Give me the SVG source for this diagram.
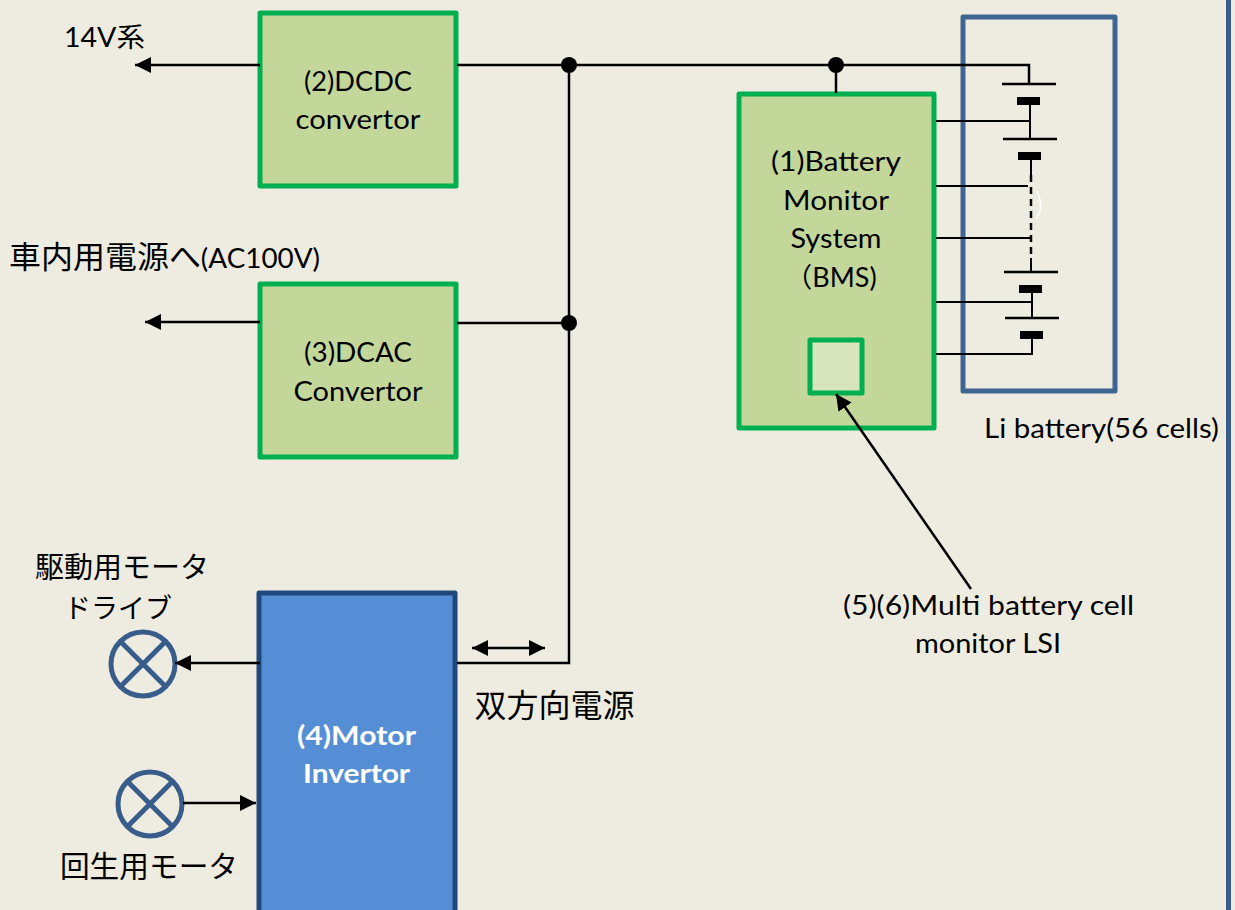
<svg xmlns="http://www.w3.org/2000/svg" width="1235" height="910" viewBox="0 0 1235 910">
<style>
text{font-family:"Lato","Noto Sans CJK JP",sans-serif;font-size:27px;fill:#000;text-anchor:middle}
.jp{font-family:"Noto Sans CJK JP",sans-serif;font-size:29.7px}
.box{fill:#C4D79B;stroke:#00B050;stroke-width:5;stroke-linejoin:round}
.w{fill:none;stroke:#000;stroke-width:2.5}
.t{fill:none;stroke:#000;stroke-width:2}
.p{fill:none;stroke:#000;stroke-width:2.5}
.m{fill:none;stroke:#385D8A;stroke-width:5}
.dot{fill:#000}
</style>
<defs>
<marker id="a" markerUnits="userSpaceOnUse" markerWidth="16" markerHeight="16" refX="16" refY="8" orient="auto-start-reverse" viewBox="0 0 16 16"><path d="M0 0L16 8L0 16Z" fill="#000"/></marker>
</defs>
<rect width="1235" height="910" fill="#EEECE1"/>
<rect x="1226" y="-5" width="5" height="920" fill="#385D8A"/>
<g id="battery"><rect x="963" y="17" width="152" height="374" fill="none" stroke="#3F6592" stroke-width="5" stroke-linejoin="round"/>
<text x="1039" y="215" style="fill:#fff;font-size:32px;font-weight:300">)</text>
<text x="1101.500" y="438" textLength="235" lengthAdjust="spacingAndGlyphs">Li battery(56 cells)</text></g>
<g id="dcdc"><rect class="box" x="260" y="13" width="196" height="173"/><text x="358" y="91" textLength="108" lengthAdjust="spacingAndGlyphs">(2)DCDC</text><text x="358" y="129" textLength="125" lengthAdjust="spacingAndGlyphs">convertor</text></g>
<g id="dcac"><rect class="box" x="260" y="284" width="196" height="173"/><text x="358" y="362" textLength="108" lengthAdjust="spacingAndGlyphs">(3)DCAC</text><text x="358" y="401" textLength="129" lengthAdjust="spacingAndGlyphs">Convertor</text></g>
<g id="bms"><rect class="box" x="739" y="94" width="195" height="334"/><text x="836" y="171" textLength="130" lengthAdjust="spacingAndGlyphs">(1)Battery</text><text x="836" y="210" textLength="106" lengthAdjust="spacingAndGlyphs">Monitor</text><text x="836" y="248" textLength="91" lengthAdjust="spacingAndGlyphs">System</text><text x="831" y="287">（BMS)</text>
<rect x="810" y="340" width="52" height="53" fill="#D8E4BC" stroke="#00B050" stroke-width="5" stroke-linejoin="round"/></g>
<g id="inverter"><rect x="259" y="593" width="196" height="330" fill="#558ED5" stroke="#1F497D" stroke-width="5" stroke-linejoin="round"/><text x="356.500" y="745" style="fill:#fff;font-weight:700" textLength="119" lengthAdjust="spacingAndGlyphs">(4)Motor</text><text x="356.500" y="783" style="fill:#fff;font-weight:700" textLength="107" lengthAdjust="spacingAndGlyphs">Invertor</text></g>
<g id="motor1"><circle class="m" cx="143" cy="664" r="32"/><path class="m" d="M121 642L165 686M165 642L121 686"/></g>
<g id="motor2"><circle class="m" cx="150" cy="804" r="32"/><path class="m" d="M128 782L172 826M172 782L128 826"/></g>
<g id="connectors">
<path class="w" d="M260 65H135" marker-end="url(#a)"/>
<path class="w" d="M457 65H1029V84"/>
<path class="w" d="M836 65V93"/>
<path class="w" d="M569 65V663H457"/>
<path class="w" d="M457 323H569"/>
<path class="w" d="M260 322H145" marker-end="url(#a)"/>
<path class="w" d="M260 663H175" marker-end="url(#a)"/>
<path class="w" d="M183 803H256" marker-end="url(#a)"/>
<path class="w" d="M472 648H545" marker-start="url(#a)" marker-end="url(#a)"/>
<path class="w" d="M971 589L836 394" marker-end="url(#a)"/>
<circle class="dot" cx="569" cy="65" r="8"/>
<circle class="dot" cx="836" cy="65" r="8"/>
<circle class="dot" cx="569" cy="323" r="8"/>
<path class="t" d="M936 121H1030M936 186H1028M936 238H1030M936 302H1031M936 354H1032V339"/>
<path class="t" d="M1030 105V139M1031 160V175M1031 258V272M1032 293V318"/>
<path class="p" d="M1031 175V258" stroke-dasharray="7 5"/>
<path class="p" d="M1002 84H1056M1003 139H1057M1004 272H1058M1005 318H1059"/>
<path d="M1017 97h23v8h-23zM1018 152h23v8h-23zM1019 285h23v8h-23zM1020 331h23v8h-23z" fill="#000"/>
</g>
<g id="labels">
<text x="104.500" y="47" textLength="81" lengthAdjust="spacingAndGlyphs">14V系</text>
<text x="164.500" y="268" textLength="311" lengthAdjust="spacingAndGlyphs"><tspan class="jp" style="font-size:31px">車内用電源へ</tspan>(AC100V)</text>
<text class="jp" x="122" y="578" style="font-size:29px">駆動用モータ</text>
<text class="jp" x="118" y="618" style="font-size:27px">ドライブ</text>
<text class="jp" x="149" y="877">回生用モータ</text>
<text class="jp" x="554.500" y="717" style="font-size:32px">双方向電源</text>
<text x="988.500" y="615" textLength="291" lengthAdjust="spacingAndGlyphs">(5)(6)Multi battery cell</text>
<text x="988" y="653" textLength="146" lengthAdjust="spacingAndGlyphs">monitor LSI</text>
</g>
</svg>
